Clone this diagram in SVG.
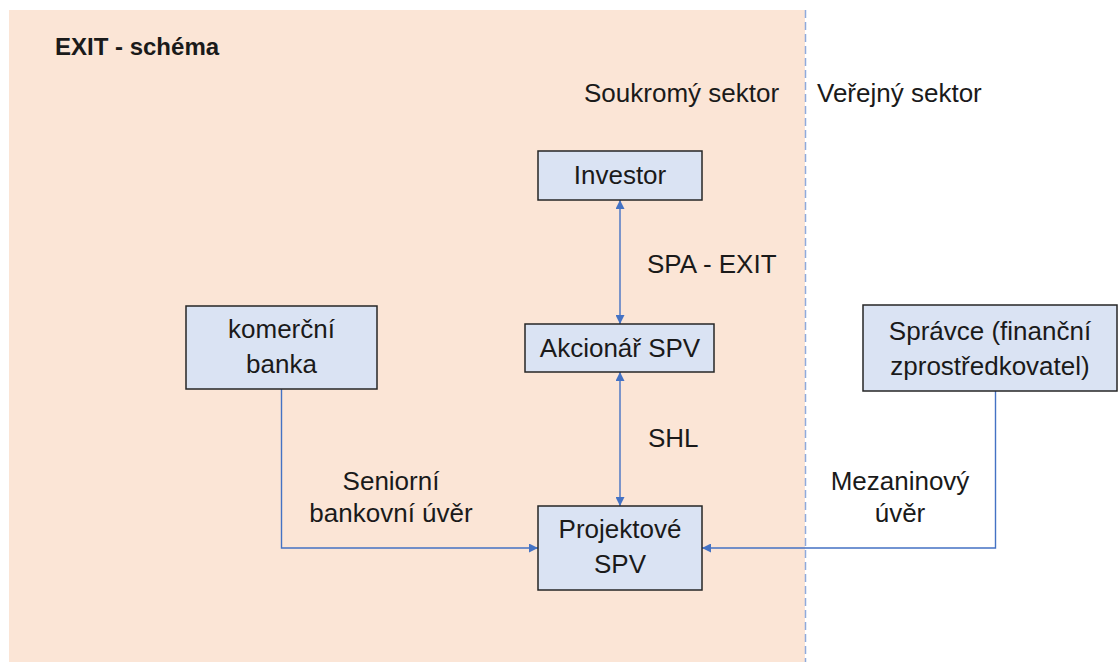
<svg xmlns="http://www.w3.org/2000/svg" width="1119" height="662" viewBox="0 0 1119 662">
<defs>
<style>
.t{font-family:"Liberation Sans",Arial,sans-serif;font-size:26px;fill:#1a1a1a}
.c{text-anchor:middle}
.box{fill:#DAE3F3;stroke:#262626;stroke-width:1.5}
.con{fill:none;stroke:#4472C4;stroke-width:1.4}
</style>
<marker id="ah" viewBox="0 0 10 10" refX="10" refY="5" markerWidth="10" markerHeight="9" markerUnits="userSpaceOnUse" orient="auto-start-reverse">
<path d="M0,0 L10,5 L0,10 Z" fill="#4472C4"/>
</marker>
</defs>
<rect width="1119" height="662" fill="#ffffff"/>
<rect x="9" y="10" width="796" height="652" fill="#FBE5D6"/>
<line x1="805.5" y1="10" x2="805.5" y2="662" stroke="#8FAADC" stroke-width="1.5" stroke-dasharray="8,4"/>
<text class="t" x="55" y="55" style="font-weight:bold;font-size:24px">EXIT - schéma</text>
<text class="t" x="584" y="102">Soukromý sektor</text>
<text class="t" x="817" y="102">Veřejný sektor</text>
<g id="connectors">
<line class="con" x1="620" y1="200" x2="620" y2="324" marker-start="url(#ah)" marker-end="url(#ah)"/>
<line class="con" x1="620" y1="372" x2="620" y2="506" marker-start="url(#ah)" marker-end="url(#ah)"/>
<path class="con" d="M281.5 389 V548 H538" marker-end="url(#ah)"/>
<path class="con" d="M995.5 391 V548 H702" marker-end="url(#ah)"/>
<text class="t" x="647" y="273">SPA - EXIT</text>
<text class="t" x="648" y="447">SHL</text>
<text class="t c" x="391" y="490">Seniorní</text>
<text class="t c" x="391" y="522">bankovní úvěr</text>
<text class="t c" x="900" y="490">Mezaninový</text>
<text class="t c" x="900" y="522">úvěr</text>
</g>
<g id="investor">
<rect class="box" x="538" y="151" width="164" height="49"/>
<text class="t c" x="620" y="184">Investor</text>
</g>
<g id="akcionar">
<rect class="box" x="525" y="324" width="189" height="48"/>
<text class="t c" x="620" y="357">Akcionář SPV</text>
</g>
<g id="projektove">
<rect class="box" x="538" y="506" width="164" height="84"/>
<text class="t c" x="620" y="538">Projektové</text>
<text class="t c" x="620" y="573">SPV</text>
</g>
<g id="banka">
<rect class="box" x="186" y="306" width="191" height="83"/>
<text class="t c" x="281.5" y="338">komerční</text>
<text class="t c" x="281.5" y="373">banka</text>
</g>
<g id="spravce">
<rect class="box" x="863" y="305" width="254" height="86"/>
<text class="t c" x="990" y="340">Správce (finanční</text>
<text class="t c" x="990" y="375">zprostředkovatel)</text>
</g>
</svg>
